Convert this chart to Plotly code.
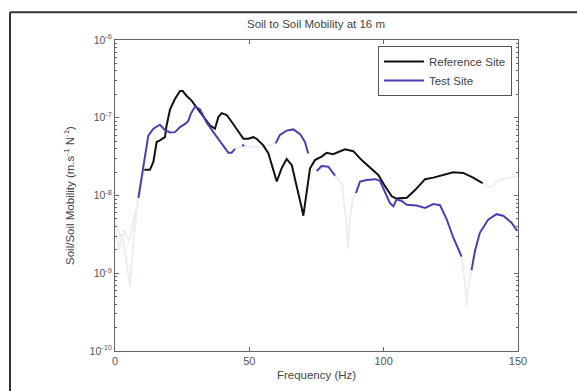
import plotly.graph_objects as go

# ---- data ----
ref_f = [10.9, 13.0, 14.3, 15.5, 16.7, 18.6, 19.2, 20.5, 22.3, 24.2, 25.2, 26.7, 28.5, 30.4, 32.9, 35.4,
         37.2, 38.5, 39.7, 41.6, 44.0, 46.5, 47.8, 49.6, 51.5, 52.7, 55.2, 57.1, 58.9, 60.2, 62.0, 63.9,
         65.8, 67.6, 69.5, 70.1, 71.3, 72.6, 74.4, 76.9, 78.8, 81.2, 85.6, 88.7, 91.8, 94.9, 98.0, 100.5,
         103.0, 104.8, 108.6, 111.7, 115.4, 118.5, 122.2, 125.9, 129.6, 133.3, 136.8]
ref_log = [-7.67, -7.67, -7.566, -7.312, -7.29, -7.25, -7.10, -6.89, -6.76, -6.656, -6.656, -6.72, -6.78,
           -6.87, -6.99, -7.10, -7.14, -6.99, -6.94, -6.965, -7.08, -7.206, -7.27, -7.27, -7.25, -7.27,
           -7.355, -7.46, -7.69, -7.82, -7.65, -7.53, -7.61, -7.86, -8.16, -8.26, -7.99, -7.65, -7.545,
           -7.50, -7.45, -7.47, -7.405, -7.43, -7.545, -7.64, -7.735, -7.88, -8.01, -8.04, -8.03, -7.93,
           -7.79, -7.77, -7.73, -7.70, -7.71, -7.77, -7.84]

test_segments = [
    ([8.7, 9.9, 11.2, 12.4, 14.3, 16.7, 18.6, 20.5, 22.3, 24.2, 26.1, 27.3, 28.2, 29.8, 31.6, 34.1, 36.6,
      39.1, 42.2, 43.4, 44.7],
     [-8.03, -7.78, -7.48, -7.23, -7.14, -7.09, -7.16, -7.19, -7.185, -7.12, -7.08, -7.04, -6.95, -6.855,
      -6.89, -7.06, -7.185, -7.31, -7.45, -7.45, -7.40]),
    ([47.3, 48.1], [-7.36, -7.35]),
    ([59.8, 61.4, 63.9, 66.4, 68.9, 70.7, 71.9],
     [-7.33, -7.22, -7.165, -7.15, -7.21, -7.31, -7.46]),
    ([75.1, 76.9, 79.4, 81.9], [-7.685, -7.62, -7.63, -7.745]),
    ([89.7, 91.2, 93.7, 96.8, 98.6, 100.5, 102.3, 103.6, 104.8, 106.7, 108.6, 112.3, 115.4, 118.5, 121.0,
      123.4, 125.9, 129.0],
     [-7.97, -7.82, -7.80, -7.79, -7.81, -7.95, -8.095, -8.14, -8.05, -8.07, -8.12, -8.13, -8.16, -8.11,
      -8.125, -8.3, -8.54, -8.785]),
    ([132.7, 134.0, 135.8, 138.9, 142.0, 144.5, 147.6, 149.7],
     [-8.96, -8.71, -8.48, -8.31, -8.24, -8.26, -8.35, -8.455]),
]

faint_gray = ([0.6, 2.5, 3.7, 5.0, 6.2, 7.4, 9.0, 10.0, 10.9],
              [-8.37, -8.56, -8.45, -8.58, -8.48, -8.24, -8.03, -7.85, -7.67])
faint_gray_tail = ([136.8, 139.6, 143.3, 148.2, 150.0], [-7.84, -7.90, -7.80, -7.76, -7.75])
faint_blue = [
    ([0.3, 1.5, 2.8, 4.0, 5.0, 5.6, 6.3, 7.2, 8.0, 8.7], [-8.45, -8.7, -8.5, -8.8, -9.0, -9.17, -8.8, -8.45, -8.2, -8.03]),
    ([44.7, 47.3, 52.0, 56.0, 59.8], [-7.40, -7.36, -7.38, -7.36, -7.33]),
    ([81.9, 84.5, 86.0, 86.7, 87.4, 88.5, 89.7], [-7.745, -7.85, -8.3, -8.69, -8.3, -8.05, -7.97]),
    ([129.0, 130.2, 130.9, 131.6, 132.7], [-8.785, -9.1, -9.43, -9.15, -8.96]),
]

title = "Soil to Soil Mobility at 16 m"
x_title = "Frequency (Hz)"
y_title = "Soil/Soil Mobility (m.s<sup>-1</sup> N<sup>-1</sup>)"
x_ticks = [0, 50, 100, 150]
y_tick_exp = [-10, -9, -8, -7, -6]

fig = go.Figure()

fig.add_trace(go.Scatter(x=faint_gray[0], y=[10 ** v for v in faint_gray[1]], mode="lines",
                         line=dict(color="#e0e0e0", width=1), showlegend=False, hoverinfo="skip"))
fig.add_trace(go.Scatter(x=faint_gray_tail[0], y=[10 ** v for v in faint_gray_tail[1]], mode="lines",
                         line=dict(color="#e2e2e2", width=1), showlegend=False, hoverinfo="skip"))
for fx, fy in faint_blue:
    fig.add_trace(go.Scatter(x=fx, y=[10 ** v for v in fy], mode="lines",
                             line=dict(color="#eaeff6", width=2), showlegend=False, hoverinfo="skip"))

fig.add_trace(go.Scatter(x=ref_f, y=[10 ** v for v in ref_log], mode="lines", name="Reference Site",
                         line=dict(color="#111111", width=2)))
for i, (sx, sy) in enumerate(test_segments):
    fig.add_trace(go.Scatter(x=sx, y=[10 ** v for v in sy], mode="lines", name="Test Site",
                             legendgroup="test", showlegend=(i == 0),
                             line=dict(color="#4a3fae", width=2)))

axis_col = "#666666"
fig.update_layout(
    width=577, height=391,
    margin=dict(l=115, r=59, t=40, b=36),
    paper_bgcolor="white", plot_bgcolor="white",
    font=dict(family="Liberation Sans, Arial, sans-serif", size=11, color="#444444"),
    title=dict(text=title, x=(316 / 577), xanchor="center", y=1 - 24 / 391, yanchor="middle",
               font=dict(size=11.5, color="#444444")),
    showlegend=True,
    legend=dict(x=0.985, y=0.981, xanchor="right", yanchor="top", bordercolor="#555555", borderwidth=1,
                bgcolor="white", font=dict(size=11.5, color="#444444"), tracegroupgap=0,
                itemwidth=40),
    xaxis=dict(range=[0, 150], tickmode="array", tickvals=x_ticks, ticktext=[str(t) for t in x_ticks],
               ticks="inside", ticklen=4, tickcolor=axis_col, showline=True, linecolor=axis_col,
               linewidth=1, mirror="ticks", showgrid=False, zeroline=False,
               title=dict(text=x_title, standoff=4, font=dict(size=11.5)),
               tickfont=dict(size=11, color="#555555")),
    yaxis=dict(type="log", range=[-10, -6], tickmode="array", tickvals=[10 ** e for e in y_tick_exp],
               ticktext=["10<sup>%d</sup>" % e for e in y_tick_exp],
               ticks="inside", ticklen=4, tickcolor=axis_col, showline=True, linecolor=axis_col,
               linewidth=1, mirror="ticks", showgrid=False, zeroline=False,
               minor=dict(ticks="inside", ticklen=2, tickcolor=axis_col,
                          tickvals=[m * 10 ** e for e in range(-10, -6) for m in range(2, 10)]),
               title=dict(text=y_title, standoff=12, font=dict(size=11.5)),
               tickfont=dict(size=10.5, color="#555555")),
    shapes=[
        dict(type="line", xref="paper", yref="paper", x0=-0.2605, x1=-0.2605, y0=-0.2, y1=1.0889,
             line=dict(color="#333333", width=2)),
        dict(type="line", xref="paper", yref="paper", x0=-0.2605, x1=1.3, y0=1.0889, y1=1.0889,
             line=dict(color="#333333", width=2)),
    ],
)

fig.write_html("out.html", config={"displayModeBar": False},
               post_script="document.body.style.margin='0';document.body.style.overflow='hidden';")
